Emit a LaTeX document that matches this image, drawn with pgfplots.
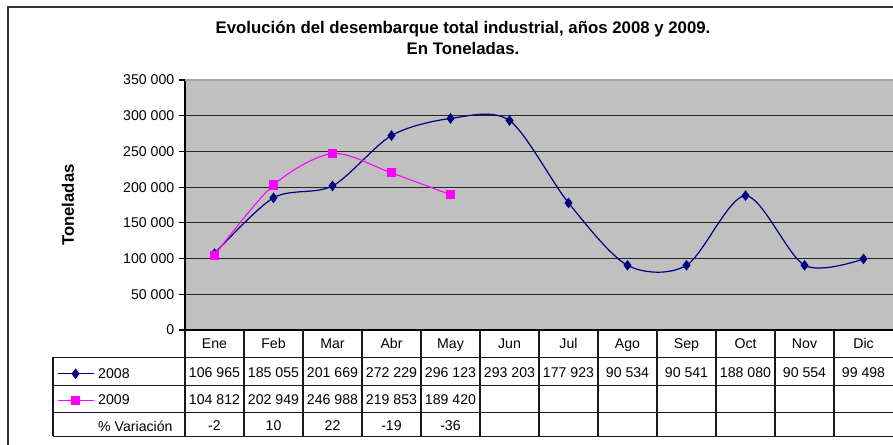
\documentclass[border=0pt]{standalone}
\usepackage{pgfplots}
\pgfplotsset{compat=1.18}
\usepackage{fontspec}
\setmainfont{Liberation Sans}
\definecolor{navy08}{RGB}{0,0,128}
\definecolor{mag09}{RGB}{255,0,255}
\definecolor{plotgray}{RGB}{192,192,192}
\newcommand{\tfont}{\fontsize{10.6}{12}\selectfont}
\begin{document}
\begin{tikzpicture}
\useasboundingbox (0,0) rectangle (669.75pt,333.75pt);
\fill[white] (0,0) rectangle (669.75pt,333.75pt);
\begin{axis}[
  at={(138.75pt,86.25pt)}, anchor=south west,
  width=531pt, height=187.5pt, scale only axis,
  xmin=-0.5, xmax=11.5, ymin=0, ymax=350000,
  xtick=\empty,
  ytick={0,50000,100000,150000,200000,250000,300000,350000},
  yticklabels={0,50 000,100 000,150 000,200 000,250 000,300 000,350 000},
  ymajorgrids, grid style={black!85, line width=0.8pt},
  axis lines*=left, axis line style={black, line width=0.8pt},
  tick align=outside, major tick length=4.5pt, tick style={black, line width=0.8pt},
  scaled y ticks=false,
  yticklabel style={font=\tfont},
  axis background/.style={fill=plotgray},
  clip=false,
  legend style={at={(axis description cs:-0.18079,-0.1516)}, anchor=north west, draw=none, fill=none,
    inner sep=0pt, outer sep=0pt, row sep=9.3pt, column sep=3pt,
    nodes={inner sep=0pt, outer sep=0pt, text height=7.6pt, text depth=3pt, font=\tfont}},
  legend cell align=left,
  legend image code/.code={
    \draw[sharp plot] (0pt,0.9pt) -- (27pt,0.9pt);
    \draw[sharp plot, only marks] plot coordinates {(13.5pt,0.9pt)};},
]
\addplot[navy08, line width=0.9pt, smooth, mark=diamond*, mark size=3.3pt, mark options={solid}]
  coordinates {(0,106965) (1,185055) (2,201669) (3,272229) (4,296123) (5,293203) (6,177923) (7,90534) (8,90541) (9,188080) (10,90554) (11,99498)};
\addlegendentry{2008}
\addplot[mag09, line width=0.8pt, smooth, mark=square*, mark size=3pt, mark options={solid}]
  coordinates {(0,104812) (1,202949) (2,246988) (3,219853) (4,189420)};
\addlegendentry{2009}
\addlegendimage{empty legend}
\addlegendentry{\% Variación}
\end{axis}
\begin{scope}[x=0.75pt,y=-0.75pt,yshift=333.75pt]
  % top border of plot area (lighter)
  \draw[line width=0.8pt, gray!70] (185,80) -- (893,80);
  % outer frame
  \draw[line width=1.3pt, black!80] (8,445) -- (8,7) -- (893,7);
  % title
  \node[anchor=base, font=\bfseries\fontsize{12.6}{15}\selectfont, inner sep=0pt] at (463,34) {Evolución del desembarque total industrial, años 2008 y 2009.};
  \node[anchor=base, font=\bfseries\fontsize{12.6}{15}\selectfont, inner sep=0pt] at (463,55) {En Toneladas.};
  % y label
  \node[rotate=90, font=\bfseries\fontsize{12.5}{14}\selectfont] at (68,205) {Toneladas};
  % table grid
  \begin{scope}[line width=0.9pt, black!90]
  \foreach \yy in {357.5,385.5,412.5,436.5} \draw (53,\yy) -- (893,\yy);
  \draw (53,357.5) -- (53,436.5);
  \foreach \i in {0,...,11} \draw (185+59*\i,330) -- (185+59*\i,436.5);
  \end{scope}
  \tikzset{tbl/.style={anchor=base, inner sep=0pt, font=\tfont}}
  \foreach \m [count=\i from 0] in {Ene,Feb,Mar,Abr,May,Jun,Jul,Ago,Sep,Oct,Nov,Dic}
    \node[tbl] at (214.5+59*\i,349) {\m};
  \foreach \v [count=\i from 0] in {106 965,185 055,201 669,272 229,296 123,293 203,177 923,90 534,90 541,188 080,90 554,99 498}
    \node[tbl] at (214.5+59*\i,378) {\v};
  \foreach \v [count=\i from 0] in {104 812,202 949,246 988,219 853,189 420}
    \node[tbl] at (214.5+59*\i,405) {\v};
  \foreach \v [count=\i from 0] in {-2,10,22,-19,-36}
    \node[tbl] at (214.5+59*\i,431) {\v};
\end{scope}
\end{tikzpicture}
\end{document}
